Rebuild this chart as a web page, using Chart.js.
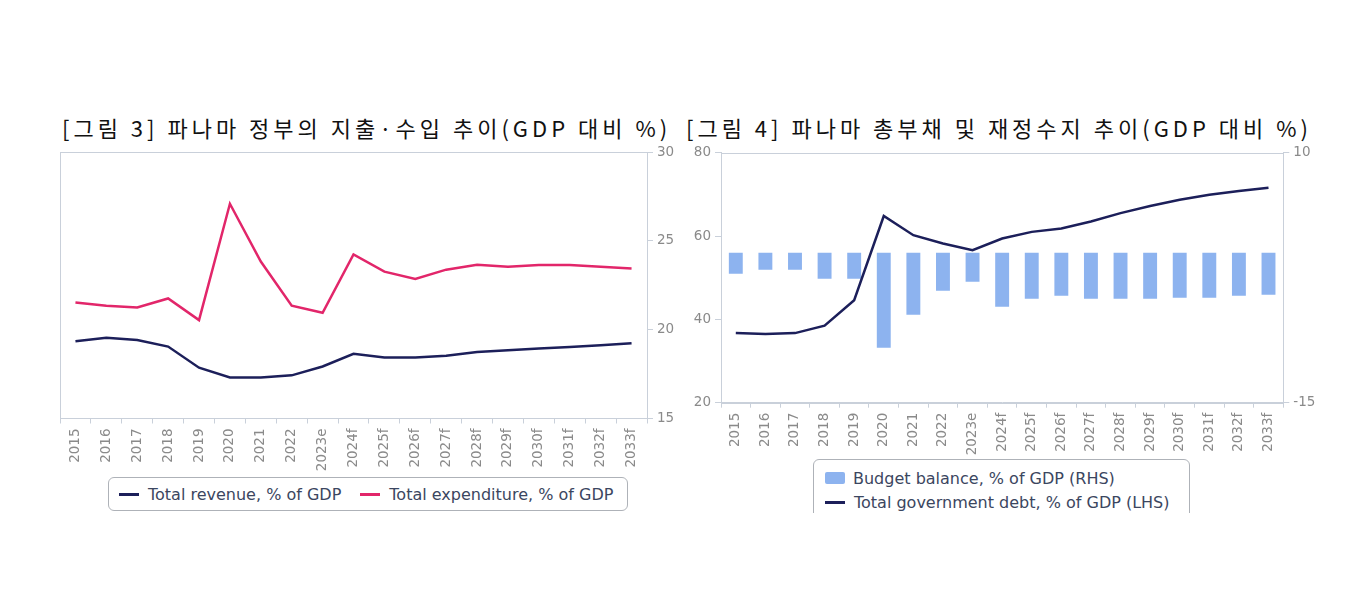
<!DOCTYPE html>
<html>
<head>
<meta charset="utf-8">
<script src="https://cdn.jsdelivr.net/npm/chart.js@4/dist/chart.umd.min.js"></script>
<style>
  body { margin: 0; background: #fff; width: 1362px; height: 616px; position: relative; overflow: hidden; }
  .title { position: absolute; top: 112px; font-family: "Noto Sans CJK KR", sans-serif; font-size: 22px; color: #111; white-space: nowrap; letter-spacing: 4px; line-height: 30px; }
  .wrap { position: absolute; }
  .legend { position: absolute; font-family: "DejaVu Sans", sans-serif; font-size: 16px; color: #3b4660; }
  .box { border: 1px solid #aeb2b8; border-radius: 6px; box-sizing: border-box; background: #fff; }
  .item { display: flex; align-items: center; white-space: nowrap; }
  .line { width: 20px; height: 3px; margin-right: 9px; }
  .sq { width: 20px; height: 12px; border-radius: 2px; margin-right: 8px; }
</style>
</head>
<body>
<div class="title" style="left:62px">[그림 3] 파나마 정부의 지출·수입 추이(GDP 대비 %)</div>
<div class="title" style="left:686px">[그림 4] 파나마 총부채 및 재정수지 추이(GDP 대비 %)</div>

<div class="wrap" style="left:40px;top:140px;width:660px;height:345px"><canvas id="c1" width="660" height="345"></canvas></div>
<div class="wrap" style="left:680px;top:140px;width:660px;height:345px"><canvas id="c2" width="660" height="345"></canvas></div>

<div class="legend box" style="left:108px;top:477px;width:520px;height:34px;display:flex;align-items:center;padding-left:10px">
  <div class="item"><div class="line" style="background:#1c1f5a"></div>Total revenue, % of GDP</div>
  <div class="item" style="margin-left:19px"><div class="line" style="background:#e2266a"></div>Total expenditure, % of GDP</div>
</div>

<div style="position:absolute;left:812px;top:458px;width:380px;height:55px;overflow:hidden">
  <div class="legend box" style="left:1px;top:1px;width:377px;height:70px;padding:6px 0 0 11px">
    <div class="item" style="height:24px"><div class="sq" style="background:#8db3ef"></div>Budget balance, % of GDP (RHS)</div>
    <div class="item" style="height:24px"><div class="line" style="background:#1c1f5a"></div>Total government debt, % of GDP (LHS)</div>
  </div>
</div>

<script>
const years = ['2015', '2016', '2017', '2018', '2019', '2020', '2021', '2022', '2023e', '2024f',
  '2025f', '2026f', '2027f', '2028f', '2029f', '2030f', '2031f', '2032f', '2033f'];

// [그림 3]
const revenue = [19.35, 19.54, 19.42, 19.05, 17.86, 17.31, 17.31, 17.43, 17.93, 18.64,
  18.43, 18.43, 18.53, 18.75, 18.84, 18.94, 19.03, 19.13, 19.24];
const expenditure = [21.53, 21.35, 21.25, 21.76, 20.54, 27.09, 23.84, 21.35, 20.95, 24.24,
  23.27, 22.86, 23.38, 23.66, 23.55, 23.64, 23.64, 23.55, 23.45];

// [그림 4]
const debt = [36.7, 36.5, 36.7, 38.5, 44.6, 64.8, 60.2, 58.2, 56.6, 59.4,
  61.0, 61.8, 63.5, 65.5, 67.2, 68.7, 69.9, 70.8, 71.6];
const budget = [-2.1, -1.7, -1.7, -2.6, -2.6, -9.5, -6.2, -3.8, -2.9, -5.4,
  -4.6, -4.3, -4.6, -4.6, -4.6, -4.5, -4.5, -4.3, -4.2];

const frameColor = '#c9d0da';
const tickColor = '#8a8a8a';
Chart.defaults.font.family = 'DejaVu Sans';
Chart.defaults.animation = false;

const frame = {
  id: 'frame',
  beforeDatasetsDraw(chart) {
    const a = chart.chartArea, ctx = chart.ctx;
    ctx.save();
    ctx.strokeStyle = frameColor;
    ctx.lineWidth = 1;
    ctx.strokeRect(Math.round(a.left) + 0.5, Math.round(a.top) + 0.5, Math.round(a.right - a.left), Math.round(a.bottom - a.top));
    ctx.restore();
  }
};

function xAxis(h) {
  return {
    offset: true,
    grid: { offset: true, drawOnChartArea: false, color: frameColor, tickLength: 5 },
    border: { color: frameColor },
    ticks: { color: tickColor, font: { size: 13.5 }, minRotation: 90, maxRotation: 90, autoSkip: false, padding: 5 },
    afterFit(s) { s.height = h; }
  };
}
function yAxis(pos, min, max, step, w) {
  return {
    position: pos, min: min, max: max,
    grid: { drawOnChartArea: false, color: frameColor, tickLength: 6 },
    border: { color: frameColor },
    ticks: { stepSize: step, color: tickColor, font: { size: 13.5 }, padding: 4 },
    afterFit(s) { s.width = w; }
  };
}

new Chart(document.getElementById('c1'), {
  type: 'line',
  data: {
    labels: years,
    datasets: [
      { label: 'Total revenue, % of GDP', data: revenue, borderColor: '#1c1f5a', borderWidth: 2.5, pointRadius: 0, tension: 0 },
      { label: 'Total expenditure, % of GDP', data: expenditure, borderColor: '#e2266a', borderWidth: 2.5, pointRadius: 0, tension: 0 }
    ]
  },
  options: {
    responsive: false,
    layout: { padding: { left: 20, top: 10, right: 0, bottom: 0 } },
    plugins: { legend: { display: false }, tooltip: { enabled: false } },
    scales: {
      x: xAxis(66.5),
      y: yAxis('right', 15, 30, 5, 53)
    }
  },
  plugins: [frame]
});

new Chart(document.getElementById('c2'), {
  type: 'bar',
  data: {
    labels: years,
    datasets: [
      { type: 'line', label: 'Total government debt, % of GDP (LHS)', data: debt, yAxisID: 'yL', borderColor: '#1c1f5a', borderWidth: 2.5, pointRadius: 0, tension: 0, order: 0 },
      { type: 'bar', label: 'Budget balance, % of GDP (RHS)', data: budget, yAxisID: 'yR', backgroundColor: '#8db3ef', categoryPercentage: 1, barPercentage: 0.47, order: 1 }
    ]
  },
  options: {
    responsive: false,
    layout: { padding: { left: 0, top: 12.7, right: 0, bottom: 0 } },
    plugins: { legend: { display: false }, tooltip: { enabled: false } },
    scales: {
      x: xAxis(82.3),
      yL: yAxis('left', 20, 80, 20, 41),
      yR: yAxis('right', -15, 10, 25, 56.7)
    }
  },
  plugins: [frame]
});
</script>
</body>
</html>
